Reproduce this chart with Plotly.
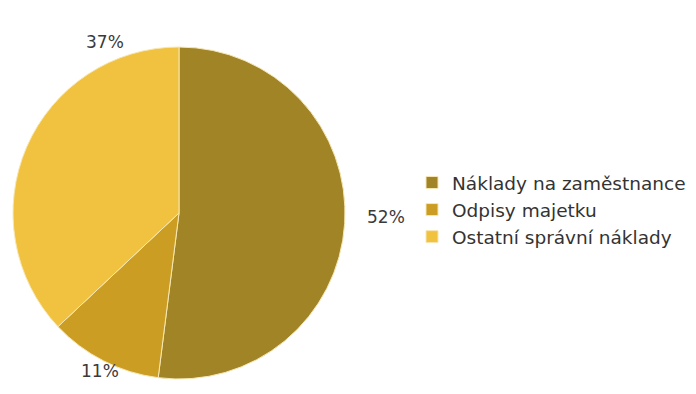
import plotly.graph_objects as go

# Slice data
categories = ["Náklady na zaměstnance", "Odpisy majetku", "Ostatní správní náklady"]
shares = [52, 11, 37]
colors = ["#a08426", "#cb9d22", "#f0c23f"]

# Where each percentage label sits (paper coordinates)
label_pos = [(386, 217), (79, 383), (84, 30)]

W, H = 696, 394
FONT = "DejaVu Sans"

fig = go.Figure(
    go.Pie(
        labels=categories,
        values=shares,
        sort=False,
        direction="clockwise",
        rotation=0,
        marker=dict(colors=colors, line=dict(color="#f7e7b4", width=1)),
        textinfo="none",
        hoverinfo="label+percent",
        domain=dict(x=[13 / W, 345 / W], y=[1 - 379 / H, 1 - 47 / H]),
    )
)

for val, (px, py) in zip(shares, label_pos):
    fig.add_annotation(
        x=px / W, y=1 - py / H, xref="paper", yref="paper",
        text=f"{val}%", showarrow=False,
        font=dict(family=FONT, size=17, color="#3a3a3a"),
    )

fig.update_layout(
    width=W, height=H,
    margin=dict(l=0, r=0, t=0, b=0),
    paper_bgcolor="white",
    plot_bgcolor="white",
    font=dict(family=FONT, size=17, color="#333333"),
    legend=dict(
        x=412 / W, y=1 - 210 / H, xanchor="left", yanchor="middle",
        bgcolor="rgba(0,0,0,0)",
        font=dict(family=FONT, size=18.5, color="#333333"),
        itemwidth=30,
    ),
    showlegend=True,
)

fig.write_html("out.html")
